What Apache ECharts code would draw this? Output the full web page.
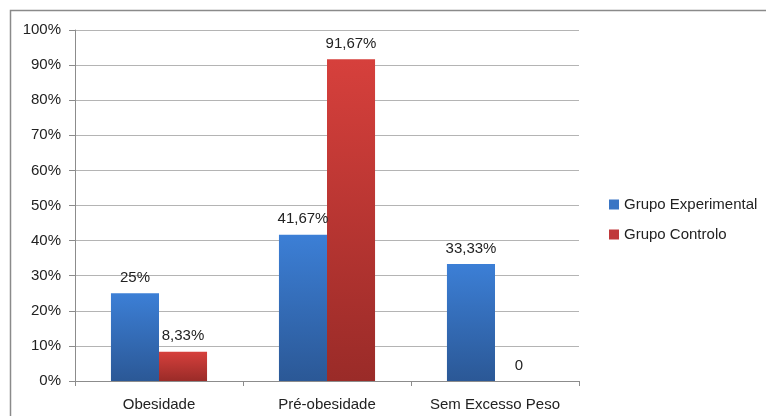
<!DOCTYPE html>
<html><head><meta charset="utf-8">
<script src="https://cdn.jsdelivr.net/npm/echarts@6/dist/echarts.min.js"></script>
<style>html,body{margin:0;padding:0;background:#fff}#c{width:766px;height:416px}</style>
</head><body><div id="c"></div>
<script>
const categories = ['Obesidade', 'Pré-obesidade', 'Sem Excesso Peso'];
const seriesNames = ['Grupo Experimental', 'Grupo Controlo'];
const experimental = [25, 41.67, 33.33];
const controlo = [8.33, 91.67, 0];
const expLabels = ['25%', '41,67%', '33,33%'];
const ctrlLabels = ['8,33%', '91,67%', '0'];

const font = 'Liberation Sans, Arial, sans-serif';
const chart = echarts.init(document.getElementById('c'));
function grad(top, bottom) {
  return new echarts.graphic.LinearGradient(0, 0, 0, 1, [{offset: 0, color: top}, {offset: 1, color: bottom}]);
}
chart.setOption({
  animation: false,
  graphic: [{type: 'rect', shape: {x: 10.5, y: 10.5, width: 800, height: 500}, style: {fill: 'none', stroke: '#8a8a8a', lineWidth: 1.5}, z: -1}],
  grid: {left: 75, right: 187, top: 30, bottom: 35, containLabel: false},
  legend: {
    orient: 'vertical', left: 604, top: 192, itemWidth: 10, itemHeight: 10, itemGap: 15,
    icon: 'rect',
    textStyle: {fontFamily: font, fontSize: 15, color: '#222'},
    data: [{name: seriesNames[0], itemStyle: {color: '#3a75c4'}}, {name: seriesNames[1], itemStyle: {color: '#c0393b'}}]
  },
  xAxis: {
    type: 'category', data: categories,
    axisLine: {lineStyle: {color: '#8c8c8c'}},
    axisTick: {show: true, interval: 0, alignWithLabel: false, length: 5, lineStyle: {color: '#8c8c8c'}},
    axisLabel: {interval: 0, hideOverlap: false, fontFamily: font, fontSize: 15, color: '#222', margin: 16}
  },
  yAxis: {
    type: 'value', min: 0, max: 100, interval: 10,
    axisLine: {show: true, lineStyle: {color: '#8c8c8c'}},
    axisTick: {show: true, length: 6, lineStyle: {color: '#8c8c8c'}},
    splitLine: {lineStyle: {color: '#b4b4b4'}},
    axisLabel: {fontFamily: font, fontSize: 15, color: '#222', margin: 14, formatter: v => v + '%'}
  },
  series: [
    {
      name: seriesNames[0], type: 'bar', data: experimental, barWidth: '28.6%', barGap: '0%',
      itemStyle: {color: grad('#3c7fd6', '#2b5896')},
      label: {show: true, position: 'top', distance: 8, fontFamily: font, fontSize: 15, color: '#222',
        formatter: p => expLabels[p.dataIndex]}
    },
    {
      name: seriesNames[1], type: 'bar', data: controlo, barWidth: '28.6%', barGap: '0%',
      itemStyle: {color: grad('#d6403c', '#9a2b28')},
      label: {show: true, position: 'top', distance: 8, fontFamily: font, fontSize: 15, color: '#222',
        formatter: p => ctrlLabels[p.dataIndex]}
    }
  ]
});
</script></body></html>
